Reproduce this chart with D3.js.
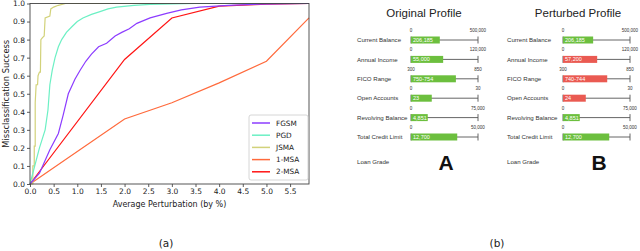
<!DOCTYPE html>
<html>
<head>
<meta charset="utf-8">
<script src="https://cdn.jsdelivr.net/npm/d3@7"></script>
<style>
  body { margin: 0; background: #fff; }
  svg { display: block; }
  .axis text { font-family: 'DejaVu Sans', sans-serif; font-size: 7.5px; fill: #222; }
  .axis path, .axis line { stroke: #333; stroke-width: 0.8; }
  .mpl { font-family: 'DejaVu Sans', sans-serif; fill: #222; }
  .prof { font-family: 'Liberation Sans', Arial, sans-serif; fill: #333; }
</style>
</head>
<body>
<svg width="640" height="251"></svg>
<script>
// ---- panel (a): misclassification success curves ----
const attacks = ['FGSM', 'PGD', 'JSMA', '1-MSA', '2-MSA'];
const attackColors = ['#8c3cff', '#6cf0c4', '#d2d27a', '#ff6a3c', '#ff1414'];

const fgsm = [[0,0],[0.2,0.06],[0.42,0.19],[0.6,0.28],[0.7,0.38],[0.81,0.5],[0.95,0.58],[1.06,0.63],
  [1.18,0.68],[1.3,0.72],[1.45,0.76],[1.62,0.78],[1.8,0.82],[1.94,0.84],[2.1,0.86],[2.26,0.89],
  [2.54,0.92],[2.89,0.945],[3.2,0.965],[3.59,0.98],[4.2,0.99],[4.86,0.997],[5.9,1.0]];
const pgd = [[0,0],[0.2,0.2],[0.32,0.3],[0.38,0.41],[0.42,0.55],[0.47,0.63],[0.53,0.7],[0.6,0.76],
  [0.67,0.8],[0.77,0.84],[0.88,0.87],[1.0,0.9],[1.12,0.92],[1.3,0.94],[1.48,0.955],[1.65,0.97],
  [1.83,0.98],[2.2,0.99],[2.54,0.995],[3.5,1.0],[5.9,1.0]];
const jsma = [[0,0],[0.06,0],[0.06,0.1],[0.09,0.1],[0.09,0.21],[0.11,0.21],[0.11,0.45],[0.13,0.55],
  [0.16,0.55],[0.17,0.6],[0.2,0.62],[0.22,0.62],[0.23,0.8],[0.26,0.81],[0.3,0.82],[0.32,0.92],
  [0.42,0.93],[0.44,0.97],[0.5,0.98],[0.6,0.99],[0.75,1.0],[5.9,1.0]];
const msa1 = [[0,0],[2,0.36],[3,0.45],[4,0.56],[5,0.68],[5.9,0.92]];
const msa2 = [[0,0],[2,0.69],[3,0.92],[4,0.985],[5,0.997],[5.9,1.0]];
const series = [fgsm, pgd, jsma, msa1, msa2];

const xTicks = [0, 0.5, 1, 1.5, 2, 2.5, 3, 3.5, 4, 4.5, 5, 5.5];
const yTicks = [0, 0.1, 0.2, 0.3, 0.4, 0.5, 0.6, 0.7, 0.8, 0.9, 1.0];

const svg = d3.select('svg');

const plot = { left: 30, right: 309, top: 3.5, bottom: 184 };

const xScale = d3.scaleLinear().domain([0, 5.9]).range([plot.left, plot.right]);
const yScale = d3.scaleLinear().domain([0, 1]).range([plot.bottom, plot.top]);

const chartA = svg.append('g');

const lineGen = d3.line()
  .x((d) => xScale(d[0]))
  .y((d) => yScale(d[1]));

// draw in reverse so FGSM sits on top
series.map((s, i) => ({ s, i })).reverse().forEach(({ s, i }) => {
  chartA.append('path')
    .attr('d', lineGen(s))
    .attr('fill', 'none')
    .attr('stroke', attackColors[i])
    .attr('stroke-width', 1.2);
});

chartA.append('g')
  .attr('class', 'axis')
  .attr('transform', `translate(0, ${plot.bottom})`)
  .call(d3.axisBottom(xScale).tickValues(xTicks).tickSize(3).tickPadding(2).tickFormat(d3.format('.1f')))
  .call((g) => g.select('.domain').remove());

chartA.append('g')
  .attr('class', 'axis')
  .attr('transform', `translate(${plot.left}, 0)`)
  .call(d3.axisLeft(yScale).tickValues(yTicks).tickSize(3).tickPadding(2).tickFormat(d3.format('.1f')))
  .call((g) => g.select('.domain').remove());

// frame
chartA.append('rect')
  .attr('x', plot.left)
  .attr('y', plot.top)
  .attr('width', plot.right - plot.left)
  .attr('height', plot.bottom - plot.top)
  .attr('fill', 'none')
  .attr('stroke', '#444')
  .attr('stroke-width', 0.9);

chartA.append('text')
  .attr('class', 'mpl')
  .attr('transform', `translate(8.5, ${(plot.top + plot.bottom) / 2}) rotate(-90)`)
  .attr('text-anchor', 'middle')
  .attr('font-size', 8.3)
  .text('Missclassification Success');

chartA.append('text')
  .attr('class', 'mpl')
  .attr('x', (plot.left + plot.right) / 2)
  .attr('y', 207)
  .attr('text-anchor', 'middle')
  .attr('font-size', 8)
  .text('Average Perturbation (by %)');

chartA.append('text')
  .attr('class', 'mpl')
  .attr('x', 166)
  .attr('y', 247)
  .attr('text-anchor', 'middle')
  .attr('font-size', 10.5)
  .text('(a)');

// legend
const legend = chartA.append('g').attr('transform', 'translate(249, 115)');
legend.append('rect')
  .attr('width', 59)
  .attr('height', 65)
  .attr('rx', 2)
  .attr('fill', '#fff')
  .attr('stroke', '#ccc')
  .attr('stroke-width', 0.8);

attacks.forEach((name, i) => {
  const y = 8 + i * 12.2;
  legend.append('line')
    .attr('x1', 3).attr('x2', 21)
    .attr('y1', y).attr('y2', y)
    .attr('stroke', attackColors[i])
    .attr('stroke-width', 1.5);
  legend.append('text')
    .attr('class', 'mpl')
    .attr('x', 27)
    .attr('y', y + 2.6)
    .attr('font-size', 7.3)
    .text(name);
});

// ---- panel (b): original vs perturbed profile ----
const fields = ['Current Balance', 'Annual Income', 'FICO Range', 'Open Accounts', 'Revolving Balance', 'Total Credit Limit'];
const minLabels = ['0', '0', '300', '0', '0', '0'];
const maxLabels = ['500,000', '120,000', '850', '30', '75,000', '50,000'];
const origValues = ['206,185', '55,000', '750-754', '23', '4,851', '12,700'];
const origFill = [0.43, 0.48, 0.67, 0.31, 0.25, 0.69];
const pertValues = ['206,185', '57,200', '740-744', '24', '4,851', '12,700'];
const pertFill = [0.45, 0.51, 0.66, 0.34, 0.25, 0.69];
const pertChanged = [false, true, true, true, false, false];

const rowY = d3.scalePoint().domain(fields).range([40, 137]);

const profiles = [
  { title: 'Original Profile', letter: 'A', labelX: 357, barX0: 411, barX1: 478, titleX: 424, letterX: 446,
    values: origValues, fill: origFill, changed: fields.map(() => false) },
  { title: 'Perturbed Profile', letter: 'B', labelX: 507, barX0: 563, barX1: 630, titleX: 578, letterX: 599,
    values: pertValues, fill: pertFill, changed: pertChanged }
];

profiles.forEach((p) => {
  const g = svg.append('g');
  const barScale = d3.scaleLinear().domain([0, 1]).range([p.barX0, p.barX1]);

  g.append('text')
    .attr('class', 'prof')
    .attr('x', p.titleX)
    .attr('y', 17)
    .attr('text-anchor', 'middle')
    .attr('font-size', 11.5)
    .style('fill', '#222')
    .text(p.title);

  const rows = g.selectAll('.row')
    .data(fields)
    .enter()
    .append('g')
    .attr('transform', (f) => `translate(0, ${rowY(f)})`);

  rows.append('text')
    .attr('class', 'prof')
    .attr('x', p.labelX)
    .attr('y', 2.2)
    .attr('font-size', 6.1)
    .text((f) => f);

  rows.append('line')
    .attr('x1', barScale(0)).attr('x2', barScale(1))
    .attr('y1', 0).attr('y2', 0)
    .attr('stroke', '#555')
    .attr('stroke-width', 0.9);

  rows.append('line')
    .attr('x1', barScale(1)).attr('x2', barScale(1))
    .attr('y1', -3.5).attr('y2', 3.5)
    .attr('stroke', '#555')
    .attr('stroke-width', 0.9);

  rows.append('line')
    .attr('x1', barScale(0)).attr('x2', barScale(0))
    .attr('y1', -3.5).attr('y2', 3.5)
    .attr('stroke', '#555')
    .attr('stroke-width', 0.9);

  rows.append('rect')
    .attr('x', barScale(0))
    .attr('y', -3.5)
    .attr('width', (f, i) => barScale(p.fill[i]) - barScale(0))
    .attr('height', 7)
    .attr('fill', (f, i) => p.changed[i] ? '#ea5a52' : '#6cbf3e');

  rows.append('text')
    .attr('class', 'prof')
    .attr('x', barScale(0) + 2)
    .attr('y', 2)
    .attr('font-size', 5.5)
    .style('fill', '#fff')
    .text((f, i) => p.values[i]);

  rows.append('text')
    .attr('class', 'prof')
    .attr('x', barScale(0))
    .attr('y', -8)
    .attr('text-anchor', 'middle')
    .attr('font-size', 4.5)
    .text((f, i) => minLabels[i]);

  rows.append('text')
    .attr('class', 'prof')
    .attr('x', barScale(1))
    .attr('y', -8)
    .attr('text-anchor', 'middle')
    .attr('font-size', 4.5)
    .text((f, i) => maxLabels[i]);

  g.append('text')
    .attr('class', 'prof')
    .attr('x', p.labelX)
    .attr('y', 164)
    .attr('font-size', 6.1)
    .text('Loan Grade');

  g.append('text')
    .attr('x', p.letterX)
    .attr('y', 170)
    .attr('text-anchor', 'middle')
    .attr('font-family', 'Liberation Sans, Arial, sans-serif')
    .attr('font-weight', 'bold')
    .attr('font-size', 21)
    .attr('fill', '#111')
    .text(p.letter);
});

svg.append('text')
  .attr('class', 'mpl')
  .attr('x', 497)
  .attr('y', 247)
  .attr('text-anchor', 'middle')
  .attr('font-size', 10.5)
  .text('(b)');
</script>
</body>
</html>
